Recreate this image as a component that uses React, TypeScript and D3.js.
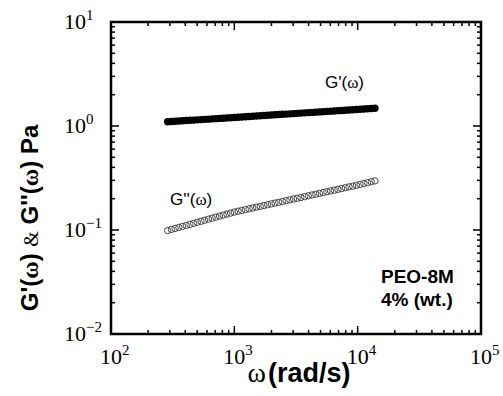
import React from "react";
import * as d3 from "d3";

const omega = [288, 309, 331, 355, 380, 407, 437, 468, 501, 537, 575, 617, 661, 708, 759, 813, 871, 933, 1000, 1072, 1148, 1230, 1318, 1413, 1514, 1622, 1738, 1862, 1995, 2138, 2291, 2455, 2630, 2818, 3020, 3236, 3467, 3715, 3981, 4266, 4571, 4898, 5248, 5623, 6026, 6457, 6918, 7413, 7943, 8511, 9120, 9772, 10471, 11220, 12023, 12882, 13804];
const gPrime = [1.099, 1.105, 1.111, 1.116, 1.122, 1.128, 1.134, 1.140, 1.146, 1.152, 1.158, 1.164, 1.171, 1.177, 1.183, 1.189, 1.196, 1.202, 1.209, 1.215, 1.222, 1.228, 1.235, 1.241, 1.248, 1.255, 1.261, 1.268, 1.275, 1.282, 1.289, 1.295, 1.302, 1.309, 1.316, 1.323, 1.331, 1.338, 1.345, 1.352, 1.359, 1.367, 1.374, 1.381, 1.389, 1.396, 1.404, 1.411, 1.419, 1.426, 1.434, 1.442, 1.449, 1.457, 1.465, 1.473, 1.481];
const gDouble = [0.0989, 0.1012, 0.1035, 0.1059, 0.1084, 0.1107, 0.1132, 0.1159, 0.1186, 0.1213, 0.1242, 0.1271, 0.1300, 0.1330, 0.1361, 0.1390, 0.1422, 0.1455, 0.1489, 0.1517, 0.1542, 0.1570, 0.1600, 0.1629, 0.1660, 0.1687, 0.1718, 0.1750, 0.1782, 0.1816, 0.1845, 0.1879, 0.1914, 0.1950, 0.1986, 0.2018, 0.2056, 0.2094, 0.2133, 0.2173, 0.2208, 0.2249, 0.2291, 0.2333, 0.2377, 0.2415, 0.2460, 0.2506, 0.2553, 0.2600, 0.2642, 0.2692, 0.2742, 0.2799, 0.2851, 0.2911, 0.2965];
const xTickExps = [2, 3, 4, 5];
const yTickExps = [1, 0, -1, -2];

const SERIF = "'Liberation Serif', 'Times New Roman', serif";
const SANS = "'Liberation Sans', Arial, sans-serif";

export default function App() {
  const L = 111, R = 481, T = 22, B = 334;
  const x = d3.scaleLog().domain([1e2, 1e5]).range([L, R]);
  const y = d3.scaleLog().domain([1e-2, 1e1]).range([B, T]);

  const minorX: number[] = [];
  for (let e = 2; e < 5; e++) for (let m = 2; m <= 9; m++) minorX.push(m * Math.pow(10, e));
  const minorY: number[] = [];
  for (let e = -2; e < 1; e++) for (let m = 2; m <= 9; m++) minorY.push(m * Math.pow(10, e));

  const maj = 8, min = 4;
  return (
    <svg width={503} height={396} style={{ position: "absolute", left: 0, top: 0, background: "#fff" }}>
      <rect x={0} y={0} width={503} height={396} fill="#fff" />
      <g stroke="#000" strokeWidth={1.5}>
        {xTickExps.map((e) => {
          const px = x(Math.pow(10, e));
          return (
            <g key={"xm" + e}>
              <line x1={px} x2={px} y1={B} y2={B - maj} />
              <line x1={px} x2={px} y1={T} y2={T + maj} />
            </g>
          );
        })}
        {minorX.map((v) => (
          <g key={"xn" + v}>
            <line x1={x(v)} x2={x(v)} y1={B} y2={B - min} />
            <line x1={x(v)} x2={x(v)} y1={T} y2={T + min} />
          </g>
        ))}
        {yTickExps.map((e) => {
          const py = y(Math.pow(10, e));
          return (
            <g key={"ym" + e}>
              <line x1={L} x2={L + maj} y1={py} y2={py} />
              <line x1={R} x2={R - maj} y1={py} y2={py} />
            </g>
          );
        })}
        {minorY.map((v) => (
          <g key={"yn" + v}>
            <line x1={L} x2={L + min} y1={y(v)} y2={y(v)} />
            <line x1={R} x2={R - min} y1={y(v)} y2={y(v)} />
          </g>
        ))}
      </g>
      <rect x={L} y={T} width={R - L} height={B - T} fill="none" stroke="#000" strokeWidth={2.5} />

      {omega.map((w, i) => (
        <circle key={"gp" + i} cx={x(w)} cy={y(gPrime[i])} r={3.7} fill="#000" />
      ))}
      {omega.map((w, i) => (
        <circle key={"gd" + i} cx={x(w)} cy={y(gDouble[i])} r={3.2} fill="none" stroke="#333" strokeWidth={0.9} />
      ))}

      {xTickExps.map((e) => (
        <text key={"xl" + e} x={x(Math.pow(10, e)) - 11} y={364} fontFamily={SERIF} fontSize={22}>
          <tspan>10</tspan>
          <tspan dy={-9} fontSize={15}>{e}</tspan>
        </text>
      ))}
      {yTickExps.map((e) => (
        <text key={"yl" + e} x={64} y={y(Math.pow(10, e)) + 7} fontFamily={SERIF} fontSize={22}>
          <tspan>10</tspan>
          <tspan dy={-9} fontSize={15}>{e < 0 ? "\u2212" + Math.abs(e) : e}</tspan>
        </text>
      ))}

      <text x={299} y={382} textAnchor="middle" fontSize={27} fontWeight="bold">
        <tspan fontFamily={SERIF} fontWeight="normal" fontSize={28}>ω</tspan>
        <tspan fontFamily={SANS} dx={2}>(rad/s)</tspan>
      </text>
      <text transform="translate(38,218) rotate(-90)" textAnchor="middle" fontSize={24} fontWeight="bold" fontFamily={SANS}>
        <tspan>G'(</tspan>
        <tspan fontFamily={SERIF}>ω</tspan>
        <tspan>) </tspan>
        <tspan fontFamily={SERIF} fontWeight="normal" fontSize={20}>&amp;</tspan>
        <tspan> G''(</tspan>
        <tspan fontFamily={SERIF}>ω</tspan>
        <tspan>) Pa</tspan>
      </text>

      <text x={325} y={88} fontFamily={SANS} fontSize={17}>
        G'(<tspan fontFamily={SERIF}>ω</tspan>)
      </text>
      <text x={170} y={205} fontFamily={SANS} fontSize={17}>
        G''(<tspan fontFamily={SERIF}>ω</tspan>)
      </text>
      <text x={381} y={283} fontFamily={SANS} fontSize={19} fontWeight="bold">PEO-8M</text>
      <text x={381} y={306} fontFamily={SANS} fontSize={19} fontWeight="bold">4% (wt.)</text>
    </svg>
  );
}
